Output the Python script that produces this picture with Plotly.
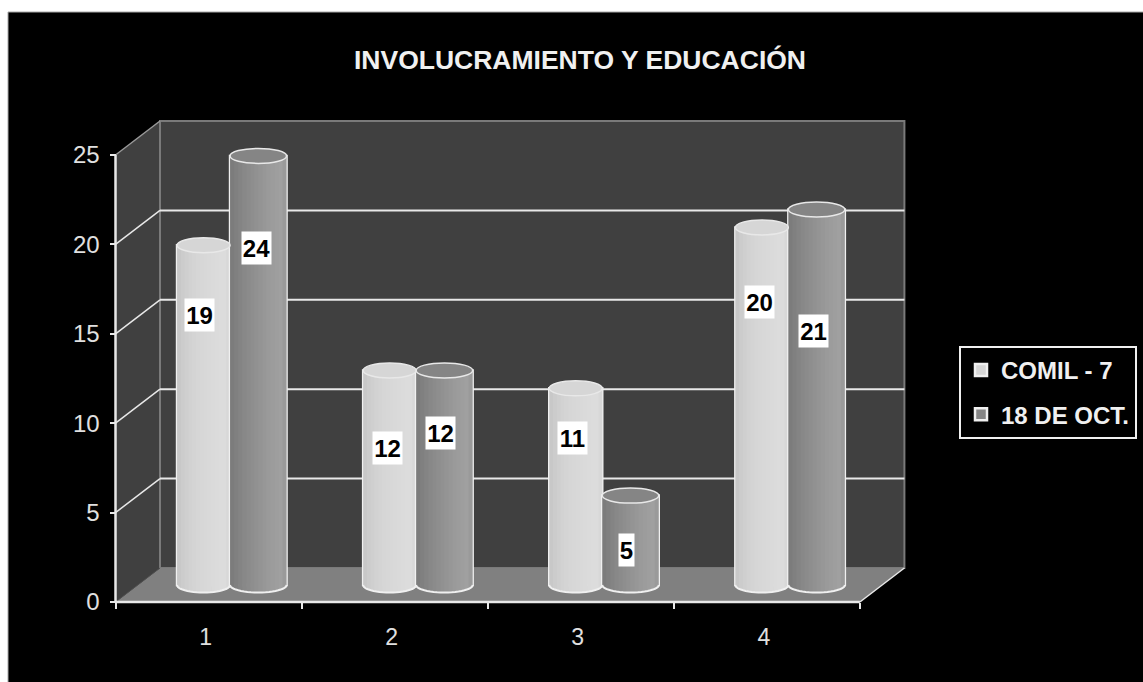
import math
import plotly.graph_objects as go

categories = [1, 2, 3, 4]
series_names = ["COMIL - 7", "18 DE OCT."]
comil_values = [19, 12, 11, 20]
octubre_values = [24, 12, 5, 21]
y_ticks = [0, 5, 10, 15, 20, 25]
title_text = "INVOLUCRAMIENTO Y EDUCACIÓN"

comil_shades = ["#c8c8c8", "#cccccc", "#cfcfcf", "#d2d2d2", "#d4d4d4", "#d6d6d6", "#d7d7d7",
                "#d8d8d8", "#d9d9d9", "#dadada", "#dbdbdb", "#dcdcdc", "#dcdcdc", "#d8d8d8"]
octubre_shades = ["#7c7c7c", "#808080", "#848484", "#888888", "#8b8b8b", "#8e8e8e", "#919191",
                  "#949494", "#979797", "#9a9a9a", "#9c9c9c", "#9e9e9e", "#a0a0a0", "#9a9a9a"]

# where the hand-placed labels of the reference sit, in axis units
comil_label_x = [0.949, 1.964, 2.953, 3.958]
comil_label_y = [16.05, 8.6, 9.17, 16.78]
octubre_label_x = [1.255, 2.244, 3.248, 4.248]
octubre_label_y = [19.8, 9.45, 2.91, 15.15]

W, H = 1143, 682
PL, PR, PT, PB = 112, 910, 118, 606     # plot area in pixels
X_UNIT, Y_UNIT = 186.1, 17.88           # pixels per axis unit
AX_LEFT, AX_BOTTOM = 115.5, 602
DX = 44.5 / X_UNIT                      # depth of the box
DY = 34 / Y_UNIT
BASE = 17 / Y_UNIT                      # bars stand in the middle of the floor
CAP = 7.5 / Y_UNIT
BAR_W1, BAR_W2 = 53 / X_UNIT, 56.5 / X_UNIT
SHIFT = 21.5 / X_UNIT
XL, XR = 0.5, 4.5
Y_MAX = 25

xrange_ = [XL - (AX_LEFT - PL) / X_UNIT, XL + (PR - AX_LEFT) / X_UNIT]
yrange_ = [-(PB - AX_BOTTOM) / Y_UNIT, (AX_BOTTOM - PT) / Y_UNIT]


def px(v):
    return (v - PL) / (PR - PL)


def py(v):
    return (PB - v) / (PB - PT)


WHITE = "#e8e8e8"
WALL = "#404040"
FLOOR = "#808080"
EDGE = "#7a7a7a"

shapes = [
    dict(type="rect", xref="paper", yref="paper", x0=px(8), x1=px(W + 5), y0=py(12), y1=py(H + 5),
         fillcolor="#000000", line=dict(color="#a8a8a8", width=1), layer="below"),
    dict(type="rect", x0=XL + DX, x1=XR + DX, y0=DY, y1=Y_MAX + DY,
         fillcolor=WALL, line=dict(color=EDGE, width=2), layer="below"),
    dict(type="path", path=f"M {XL},0 L {XL + DX},{DY} L {XL + DX},{Y_MAX + DY} L {XL},{Y_MAX} Z",
         fillcolor=WALL, line=dict(width=0), layer="below"),
    dict(type="path", path=f"M {XL},0 L {XR},0 L {XR + DX},{DY} L {XL + DX},{DY} Z",
         fillcolor=FLOOR, line=dict(width=0), layer="below"),
    dict(type="line", x0=XL + DX, x1=XL + DX, y0=DY, y1=Y_MAX + DY,
         line=dict(color=EDGE, width=2), layer="below"),
    dict(type="line", x0=XL, x1=XL + DX, y0=Y_MAX, y1=Y_MAX + DY,
         line=dict(color="#999999", width=1.5), layer="below"),
    dict(type="line", x0=XR, x1=XR + DX, y0=0, y1=DY,
         line=dict(color=WHITE, width=1.5), layer="below"),
    dict(type="line", x0=XL, x1=XL + DX, y0=0, y1=DY,
         line=dict(color="#505050", width=1), layer="below"),
]
for t in y_ticks[1:-1]:
    shapes.append(dict(type="line", x0=XL + DX, x1=XR + DX, y0=t + DY, y1=t + DY,
                       line=dict(color=WHITE, width=2), layer="below"))
    shapes.append(dict(type="line", x0=XL, x1=XL + DX, y0=t, y1=t + DY,
                       line=dict(color=WHITE, width=1.5), layer="below"))
# front axis lines
shapes.append(dict(type="line", x0=XL, x1=XR, y0=0, y1=0, line=dict(color="#e8e8e8", width=2.5)))
shapes.append(dict(type="line", x0=XL, x1=XL, y0=0, y1=Y_MAX, line=dict(color="#e8e8e8", width=2.5)))

fig = go.Figure()


def add_series(name, values, shades, offset, width, cap_color, group):
    fig.add_trace(go.Bar(
        x=categories, y=values, base=BASE, name=name, offset=offset, width=width,
        legendgroup=group, marker=dict(color=cap_color, line=dict(color="#f0f0f0", width=2.5)),
        hoverinfo="skip"))
    n = len(shades)
    for i, shade in enumerate(shades):
        t = (i + 0.5) / n * 2 - 1
        drop = CAP * math.sqrt(1 - t * t)
        extra = 0.004 if i < n - 1 else 0
        fig.add_trace(go.Bar(
            x=categories, y=[v + drop for v in values], base=BASE - drop,
            offset=offset + width * i / n, width=width / n + extra,
            marker=dict(color=shade, line=dict(width=0)),
            showlegend=False, legendgroup=group, hoverinfo="skip"))
    for c, v in zip(categories, values):
        x0 = c + offset
        x1 = x0 + width
        top = BASE + v
        shapes.append(dict(type="circle", x0=x0, x1=x1, y0=top - CAP, y1=top + CAP,
                           fillcolor=cap_color, line=dict(color="#e8e8e8", width=1.5)))
        pts = []
        for k in range(25):
            a = math.pi * k / 24
            pts.append(f"{x0 + width * (1 - math.cos(a)) / 2},{BASE - CAP * math.sin(a)}")
        shapes.append(dict(type="path", path="M " + " L ".join(pts),
                           line=dict(color="#f0f0f0", width=2)))


add_series(series_names[0], comil_values, comil_shades, SHIFT - BAR_W1, BAR_W1, "#d6d6d6", "a")
add_series(series_names[1], octubre_values, octubre_shades, SHIFT, BAR_W2, "#858585", "b")

annotations = []
for xs, ys, vals in ((comil_label_x, comil_label_y, comil_values),
                     (octubre_label_x, octubre_label_y, octubre_values)):
    for x, y, v in zip(xs, ys, vals):
        annotations.append(dict(x=x, y=y, text=f"<b>{v}</b>", showarrow=False, bgcolor="#ffffff",
                                font=dict(family="Liberation Sans", size=24, color="#000000"),
                                borderpad=0, width=14 * len(str(v)) + 1, height=32, align="center"))

fig.update_layout(
    width=W, height=H, barmode="overlay",
    margin=dict(l=PL, r=W - PR, t=PT, b=H - PB, pad=0, autoexpand=False),
    paper_bgcolor="#ffffff", plot_bgcolor="rgba(0,0,0,0)",
    font=dict(family="Liberation Sans", color="#e8e8e8"),
    title=dict(text=f"<b>{title_text}</b>", xref="container", yref="container",
               x=580 / W, y=1 - 60 / H, xanchor="center", yanchor="middle",
               font=dict(family="Liberation Sans", size=26.5, color="#f0f0f0")),
    xaxis=dict(range=xrange_, anchor="free", position=py(AX_BOTTOM), showgrid=False, zeroline=False,
               tickmode="array", tickvals=categories, ticktext=[str(c) for c in categories],
               ticks="", ticklabelstandoff=19, ticklabelshift=-3,
               tickfont=dict(size=23, color="#e0e0e0"),
               minor=dict(tickmode="array", tickvals=[XL + i for i in range(5)], ticks="outside",
                          ticklen=6, tickwidth=2, tickcolor="#e8e8e8", showgrid=False)),
    yaxis=dict(range=yrange_, anchor="free", position=px(AX_LEFT), showgrid=False, zeroline=False,
               tickmode="array", tickvals=y_ticks, ticks="outside", ticklen=6, tickwidth=2,
               tickcolor="#e8e8e8", ticklabelstandoff=5,
               tickfont=dict(size=24, color="#e0e0e0")),
    legend=dict(x=px(959), y=py(346), xanchor="left", yanchor="top", bgcolor="#000000",
                bordercolor="#f0f0f0", borderwidth=2, tracegroupgap=10, traceorder="grouped",
                font=dict(family="Liberation Sans", size=24, color="#f0f0f0", weight="bold")),
    shapes=shapes, annotations=annotations, showlegend=True,
)

fig.write_html("out.html", config={"displayModeBar": False},
               post_script="document.body.style.margin='0';document.documentElement.style.overflow='hidden';")
